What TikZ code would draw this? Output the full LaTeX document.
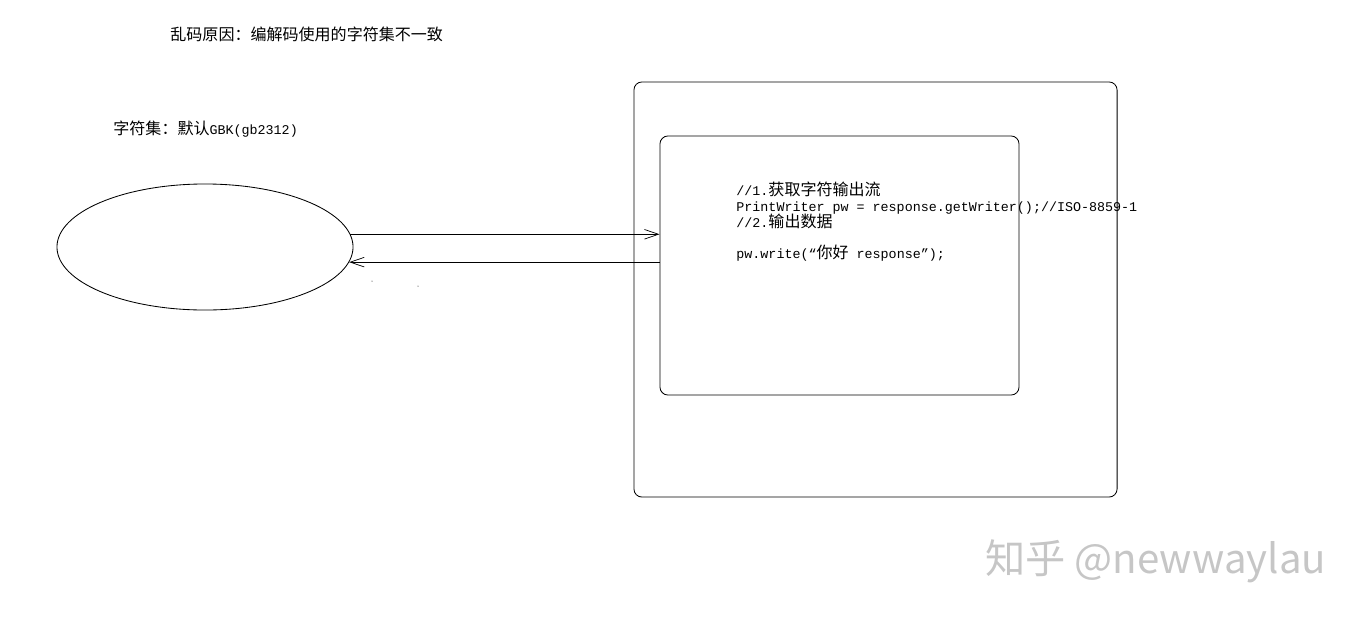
\documentclass[tikz,border=0pt]{standalone}
\usepackage{fontspec}
\usepackage{tikz}
\usetikzlibrary{shapes.geometric,arrows.meta}
\setmonofont{Liberation Mono}
\newfontfamily\cjk{Noto Sans CJK SC}
\newcommand{\zh}[1]{{\cjk\fontsize{11.4}{11.4}\selectfont #1}}

\begin{document}
\begin{tikzpicture}[x=0.025cm,y=-0.025cm,line width=0.6pt,
  roundbox/.style={draw,rounded corners=0.2cm,inner sep=0pt},
  codeline/.style={anchor=base west,inner sep=0pt,font=\ttfamily\fontsize{9.5}{11.4}\selectfont},
  flow/.style={-{Straight Barb[length=3.5mm,width=2.4mm,line width=0.5pt]}}]
\useasboundingbox (0,0) rectangle (1360,620);

\node[anchor=base west,inner sep=0pt] (title) at (170,40) {\zh{乱码原因：编解码使用的字符集不一致}};
\node[codeline] (charset) at (113,134) {\zh{字符集：默认}GBK(gb2312)};

\node[draw,ellipse,minimum width=7.4cm,minimum height=3.15cm,inner sep=0pt] (browser) at (205,247) {};

\node[roundbox,minimum width=12.075cm,minimum height=10.375cm] (server) at (875.5,289.5) {};
\node[roundbox,minimum width=8.975cm,minimum height=6.475cm] (servlet) at (839.5,265.5) {};

\node[codeline] (code1) at (736,195) {//1.\zh{获取字符输出流}};
\node[codeline] (code2) at (736,211) {PrintWriter pw = response.getWriter();//ISO-8859-1};
\node[codeline] (code3) at (736,227) {//2.\zh{输出数据}};
\node[codeline] (code4) at (736,258) {pw.write(“\zh{你好} response”);};

\draw[flow] (browser.5.5) -- (browser.5.5 -| servlet.west);
\draw[flow] (browser.-6.3 -| servlet.west) -- (browser.-6.3);

\fill (372,281) circle (0.5);
\fill (418,286) circle (0.5);

\node[anchor=base west,inner sep=0pt,text=gray!45,font=\cjk\fontsize{28.6}{28.6}\selectfont] (mark) at (985,573) {知乎 @newwaylau};
\end{tikzpicture}
\end{document}
